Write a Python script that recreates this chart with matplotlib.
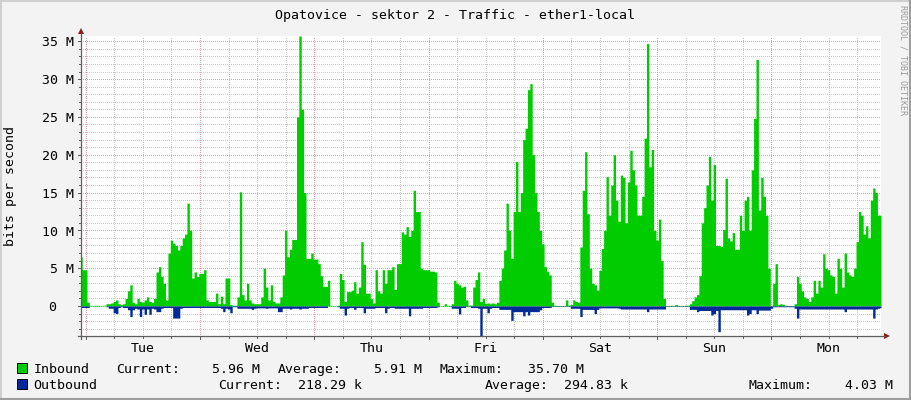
import numpy as np
import matplotlib
matplotlib.use("Agg")
import matplotlib.pyplot as plt
from matplotlib import transforms
from matplotlib.patches import Rectangle, Polygon
from matplotlib.lines import Line2D

W, H = 911, 400

title = "Opatovice - sektor 2 - Traffic - ether1-local"
y_label = "bits per second"
watermark = "RRDTOOL / TOBI OETIKER"
day_labels = ["Tue", "Wed", "Thu", "Fri", "Sat", "Sun", "Mon"]
day_label_hours = [13, 37, 61, 85, 109, 133, 157]
y_tick_values = [0, 5, 10, 15, 20, 25, 30, 35]
y_tick_labels = ["0", "5 M", "10 M", "15 M", "20 M", "25 M", "30 M", "35 M"]

# half-hourly samples (Mbit/s), starting Mon 23:00
inbound = [
    6.5, 4.8, 4.8, 0.5, 0.1, 0.05, 0.1, 0.1, 0.05, 0.05,
    0.1, 0.3, 0.3, 0.4, 0.6, 0.8, 0.3, 0.2, 0.3, 1.0,
    2.0, 2.8, 0.5, 0.3, 1.0, 0.6, 0.5, 0.8, 1.2, 0.6,
    0.5, 1.0, 4.5, 5.2, 3.9, 3.0, 0.8, 7.0, 8.7, 8.3,
    8.0, 7.4, 8.0, 9.0, 9.5, 13.6, 10.0, 3.7, 4.5, 3.9,
    4.3, 4.3, 4.8, 0.8, 0.6, 0.6, 0.6, 1.7, 0.3, 1.3,
    0.3, 3.7, 3.7, 0.2, 0.05, 0.1, 1.2, 15.1, 1.5, 0.8,
    3.0, 0.8, 0.4, 0.3, 0.3, 0.3, 1.2, 5.0, 2.5, 0.8,
    2.8, 0.6, 0.4, 0.4, 1.2, 4.1, 10.0, 6.5, 7.5, 8.8,
    8.8, 25.0, 35.7, 26.0, 15.0, 6.3, 6.3, 7.0, 6.2, 6.2,
    5.6, 4.0, 2.6, 2.6, 3.4, 0.1, 0.05, 0.05, 0.1, 4.3,
    3.5, 0.6, 1.9, 1.9, 2.1, 3.2, 1.7, 2.5, 8.5, 5.5,
    1.7, 1.7, 1.0, 0.4, 4.8, 2.0, 1.7, 4.8, 3.0, 4.8,
    4.8, 5.2, 2.2, 5.6, 5.6, 9.8, 9.5, 10.5, 9.2, 10.0,
    15.3, 12.5, 12.5, 5.0, 4.8, 4.8, 4.8, 4.6, 4.6, 4.5,
    0.5, 0.05, 0.05, 0.3, 0.1, 0.05, 0.3, 3.4, 3.0, 2.8,
    2.5, 2.6, 0.8, 0.1, 0.1, 2.5, 3.5, 4.5, 0.6, 1.0,
    0.35, 0.4, 0.3, 0.4, 0.3, 0.5, 3.4, 5.0, 7.4, 13.6,
    10.0, 6.3, 12.5, 19.1, 12.5, 15.0, 22.0, 23.5, 28.6, 29.4,
    20.0, 15.0, 12.5, 10.0, 8.2, 5.2, 4.6, 4.1, 0.5, 0.1,
    0.05, 0.05, 0.05, 0.05, 0.8, 0.1, 0.2, 0.8, 0.6, 0.5,
    7.8, 15.3, 20.4, 12.2, 5.0, 3.0, 2.8, 2.1, 4.7, 7.6,
    10.0, 17.1, 12.0, 16.0, 20.0, 14.0, 11.2, 17.3, 17.0, 11.0,
    16.4, 20.6, 18.0, 16.0, 12.0, 12.0, 14.5, 22.2, 34.7, 18.4,
    20.7, 10.0, 8.7, 11.5, 6.0, 1.0, 0.05, 0.05, 0.1, 0.05,
    0.2, 0.05, 0.05, 0.05, 0.1, 0.1, 0.3, 0.7, 1.2, 1.5,
    4.0, 11.0, 13.0, 16.0, 19.8, 14.0, 18.7, 8.0, 8.0, 7.9,
    10.1, 16.9, 9.0, 8.6, 9.7, 7.5, 7.5, 12.0, 10.0, 14.0,
    14.5, 10.0, 18.0, 24.8, 32.6, 12.7, 17.0, 14.5, 12.0, 5.0,
    0.05, 3.0, 5.6, 0.2, 0.3, 0.2, 0.05, 0.05, 0.05, 0.05,
    0.3, 3.9, 3.0, 2.0, 1.2, 1.0, 0.6, 1.2, 3.4, 1.7,
    3.4, 2.5, 6.9, 5.0, 4.8, 4.1, 3.9, 1.7, 6.3, 5.0,
    2.5, 7.0, 4.5, 4.1, 3.9, 5.0, 8.5, 12.5, 12.0, 9.5,
    10.6, 9.0, 14.0, 15.6, 15.0, 12.0, 12.0,
]
outbound = [
    0.2, 0.2, 0.2, 0.2, 0.0, 0.0, 0.0, 0.0, 0.0, 0.0,
    0.0, 0.1, 0.3, 0.3, 0.9, 1.0, 0.2, 0.1, 0.2, 0.2,
    0.5, 1.4, 0.5, 0.3, 0.4, 1.4, 0.4, 1.1, 0.4, 1.1,
    0.3, 0.4, 0.75, 0.75, 0.3, 0.2, 0.2, 0.2, 0.2, 1.6,
    1.6, 1.6, 0.3, 0.2, 0.2, 0.2, 0.2, 0.2, 0.2, 0.2,
    0.2, 0.2, 0.2, 0.2, 0.2, 0.2, 0.2, 0.2, 0.2, 0.3,
    0.75, 0.3, 0.4, 0.9, 0.1, 0.1, 0.3, 0.3, 0.3, 0.3,
    0.3, 0.3, 0.45, 0.3, 0.25, 0.25, 0.25, 0.25, 0.3, 0.25,
    0.25, 0.25, 0.25, 0.75, 0.75, 0.3, 0.3, 0.3, 0.4, 0.3,
    0.3, 0.3, 0.4, 0.3, 0.3, 0.3, 0.2, 0.2, 0.2, 0.2,
    0.2, 0.2, 0.2, 0.2, 0.0, 0.0, 0.0, 0.0, 0.1, 0.3,
    0.3, 1.2, 0.3, 0.2, 0.2, 0.45, 0.2, 0.2, 0.2, 0.9,
    0.3, 0.3, 0.3, 0.3, 0.2, 0.2, 0.2, 0.2, 0.9, 0.3,
    0.2, 0.2, 0.3, 0.3, 0.3, 0.3, 0.3, 0.3, 1.3, 0.3,
    0.3, 0.3, 0.3, 0.3, 0.2, 0.2, 0.2, 0.2, 0.2, 0.2,
    0.1, 0.0, 0.0, 0.0, 0.0, 0.05, 0.3, 0.3, 0.3, 1.05,
    0.2, 0.2, 0.05, 0.05, 0.2, 0.2, 0.2, 0.3, 4.03, 0.3,
    0.3, 0.9, 0.3, 0.2, 0.2, 0.2, 0.45, 0.45, 0.45, 0.45,
    0.45, 1.9, 0.75, 0.75, 0.75, 0.75, 1.3, 0.75, 1.2, 0.75,
    0.75, 0.75, 0.75, 0.5, 0.2, 0.2, 0.2, 0.2, 0.05, 0.05,
    0.05, 0.05, 0.05, 0.05, 0.05, 0.05, 0.3, 0.3, 0.3, 0.3,
    1.4, 0.45, 0.45, 0.45, 0.45, 0.45, 1.0, 0.45, 0.25, 0.25,
    0.25, 0.25, 0.25, 0.25, 0.25, 0.25, 0.3, 0.4, 0.4, 0.4,
    0.4, 0.4, 0.4, 0.4, 0.4, 0.4, 0.4, 0.4, 0.75, 0.4,
    0.4, 0.4, 0.4, 0.4, 0.4, 0.4, 0.05, 0.05, 0.05, 0.05,
    0.05, 0.05, 0.05, 0.05, 0.05, 0.05, 0.45, 0.45, 0.45, 0.75,
    0.6, 0.6, 0.6, 0.6, 0.6, 1.2, 1.0, 0.6, 3.4, 0.5,
    0.5, 0.5, 0.5, 0.5, 0.5, 0.5, 0.5, 0.5, 0.5, 0.5,
    1.2, 1.0, 0.5, 0.5, 1.0, 0.55, 0.55, 0.55, 0.55, 0.55,
    0.3, 0.1, 0.1, 0.1, 0.1, 0.1, 0.1, 0.1, 0.1, 0.1,
    0.3, 1.6, 0.4, 0.4, 0.4, 0.4, 0.4, 0.4, 0.4, 0.4,
    0.4, 0.4, 0.4, 0.4, 0.4, 0.4, 0.4, 0.4, 0.4, 0.4,
    0.4, 0.75, 0.4, 0.4, 0.4, 0.4, 0.4, 0.4, 0.4, 0.4,
    0.4, 0.4, 0.4, 1.6, 0.4, 0.3, 0.22,
]
times = np.arange(len(inbound)) * 0.5

legend_row1 = [("Inbound", 33.5), ("Current:", 116), ("5.96 M", 211.5), ("Average:", 278),
               ("5.91 M", 373.5), ("Maximum:", 440), ("35.70 M", 527.5)]
legend_row2 = [("Outbound", 33.5), ("Current:", 218.5), ("218.29 k", 298.5), ("Average:", 484.5),
               ("294.83 k", 563.5), ("Maximum:", 748.5), ("4.03 M", 845)]

IN_COLOR = "#00CC00"
OUT_COLOR = "#002A97"
BG = "#F3F3F3"
GRID_MINOR = "#C8C8C8"
GRID_MAJOR = "#EE9A9A"
AXIS_COLOR = "#5E5E5E"
ARROW_COLOR = "#8B1A1A"
FONT = "DejaVu Sans Mono"
FS = 9.5


def fx(x):
    return x / W


def fy(y):
    return 1 - y / H


fig = plt.figure(figsize=(W / 100, H / 100), dpi=100)
fig.patch.set_facecolor(BG)

ax = fig.add_axes([fx(81), fy(336), 800 / W, 300 / H])
ax.set_facecolor("white")
ax.set_xlim(0, 168)
ax.set_ylim(-3.97, 35.7)
for s in ax.spines.values():
    s.set_visible(False)
ax.set_xticks([])
ax.set_yticks([])

dot = (0, (1, 2))
for v in range(-3, 36):
    col = GRID_MAJOR if v % 5 == 0 else GRID_MINOR
    ax.axhline(v, color=col, lw=0.72, ls=dot, zorder=1, antialiased=False)
for h in range(1, 168, 6):
    col = GRID_MAJOR if (h - 1) % 24 == 0 else GRID_MINOR
    ax.axvline(h, color=col, lw=0.72, ls=dot, zorder=1, antialiased=False)

ax.fill_between(times, 0, inbound, color=IN_COLOR, lw=0, zorder=3, step="mid")
ax.fill_between(times, 0, -np.array(outbound), color=OUT_COLOR, lw=0, zorder=4, step="mid")

# axes lines and arrows (figure pixels)
fig.add_artist(Line2D([fx(81), fx(81)], [fy(339), fy(33)], color=AXIS_COLOR, lw=0.9))
fig.add_artist(Line2D([fx(78), fx(885)], [fy(336), fy(336)], color=AXIS_COLOR, lw=0.9))
fig.add_artist(Polygon([[fx(78), fy(34)], [fx(84), fy(34)], [fx(81), fy(28)]],
                       closed=True, color=ARROW_COLOR, lw=0))
fig.add_artist(Polygon([[fx(884), fy(333)], [fx(884), fy(339)], [fx(890), fy(336)]],
                       closed=True, color=ARROW_COLOR, lw=0))

# tick marks
ytr = transforms.blended_transform_factory(fig.transFigure, ax.transData)
for v in range(-3, 36):
    ln = 3 if v % 5 == 0 else 2
    fig.add_artist(Line2D([fx(81 - ln), fx(81)], [v, v], transform=ytr, color=AXIS_COLOR, lw=0.72))
xtr = transforms.blended_transform_factory(ax.transData, fig.transFigure)
for h in range(1, 168, 6):
    ln = 3 if (h - 1) % 24 == 0 else 2
    fig.add_artist(Line2D([h, h], [fy(336), fy(336 + ln)], transform=xtr, color=AXIS_COLOR, lw=0.72))

# y tick labels
ylab_tr = transforms.offset_copy(ytr, fig=fig, x=0, y=-5.2 * 0.72, units="points")
for v, lab in zip(y_tick_values, y_tick_labels):
    xr = 73.5 if v != 0 else 56.5
    fig.text(fx(xr), v, lab, transform=ylab_tr, ha="right", va="baseline",
             family=FONT, fontsize=FS, color="black")

# x labels
for h, lab in zip(day_label_hours, day_labels):
    fig.text(h, fy(351.5), lab, transform=xtr, ha="center", va="baseline",
             family=FONT, fontsize=FS, color="black")

# title, y label, watermark
fig.text(fx(455), fy(19.3), title, ha="center", va="baseline", family=FONT, fontsize=FS, color="black")
fig.text(fx(11), fy(186), y_label, rotation=90, ha="center", va="center",
         family=FONT, fontsize=FS, color="black")
fig.text(fx(903), fy(5), watermark, rotation=270, ha="center", va="top",
         family=FONT, fontsize=6.0, color="#9A9A9A")

# legend
fig.add_artist(Rectangle((fx(17), fy(372.7)), 10 / W, 9.4 / H, facecolor=IN_COLOR,
                         edgecolor="black", lw=0.7))
fig.add_artist(Rectangle((fx(17), fy(388.7)), 10 / W, 9.4 / H, facecolor=OUT_COLOR,
                         edgecolor="black", lw=0.7))
for txt, x in legend_row1:
    fig.text(fx(x), fy(373.3), txt, ha="left", va="baseline", family=FONT, fontsize=FS, color="black")
for txt, x in legend_row2:
    fig.text(fx(x), fy(389.0), txt, ha="left", va="baseline", family=FONT, fontsize=FS, color="black")

# 3D frame
fig.add_artist(Line2D([0, 1], [fy(1), fy(1)], color="#CFCFCF", lw=1.5))
fig.add_artist(Line2D([fx(1), fx(1)], [0, 1], color="#CFCFCF", lw=1.5))
fig.add_artist(Line2D([0, 1], [fy(399), fy(399)], color="#9E9E9E", lw=1.5))
fig.add_artist(Line2D([fx(910), fx(910)], [0, 1], color="#9E9E9E", lw=1.5))

fig.savefig("out.png", dpi=100, facecolor=BG)
